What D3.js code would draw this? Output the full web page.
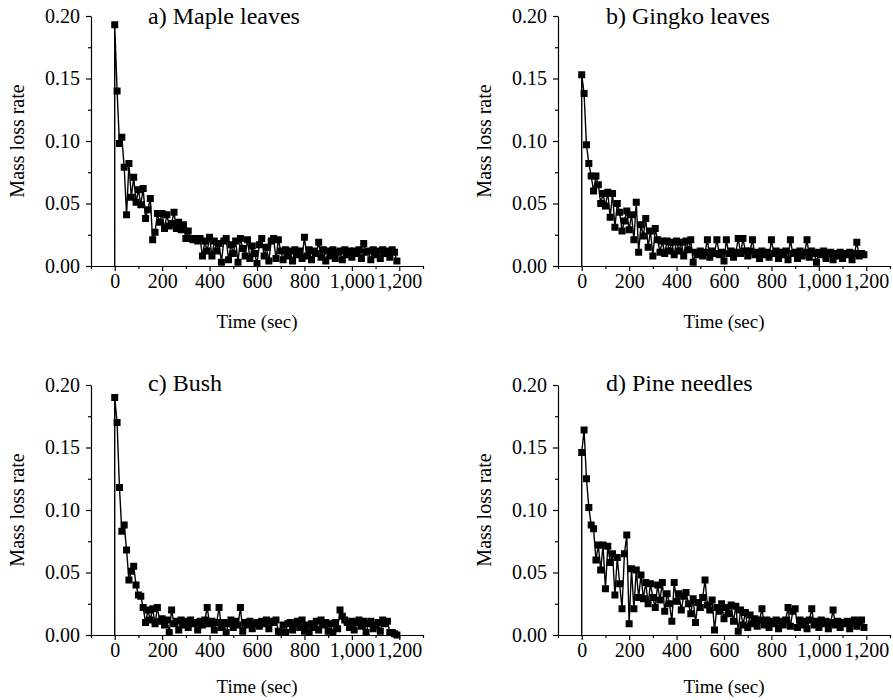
<!DOCTYPE html>
<html>
<head>
<meta charset="utf-8">
<script src="https://cdn.jsdelivr.net/npm/d3@7"></script>
<style>
  body { margin: 0; background: #fff; }
  svg { display: block; }
  .axis path, .axis line { stroke: #000; stroke-width: 1.2; }
</style>
</head>
<body>
<script>
// readings every 10 s, t = 0 .. 1190
const timeStep = 10;

const maple = [
  0.193, 0.140, 0.098, 0.103, 0.079, 0.041, 0.082, 0.055, 0.071, 0.051,
  0.061, 0.049, 0.062, 0.038, 0.045, 0.054, 0.021, 0.027, 0.042, 0.035,
  0.042, 0.030, 0.041, 0.032, 0.034, 0.043, 0.030, 0.035, 0.029, 0.033,
  0.022, 0.028, 0.022, 0.021, 0.022, 0.020, 0.022, 0.008, 0.020, 0.012,
  0.023, 0.008, 0.020, 0.012, 0.018, 0.003, 0.020, 0.022, 0.005, 0.017,
  0.010, 0.020, 0.003, 0.022, 0.014, 0.008, 0.021, 0.006, 0.016, 0.010,
  0.002, 0.017, 0.022, 0.008, 0.015, 0.004, 0.020, 0.022, 0.006, 0.021,
  0.012, 0.005, 0.013, 0.008, 0.012, 0.004, 0.013, 0.009, 0.012, 0.006,
  0.023, 0.008, 0.013, 0.005, 0.012, 0.010, 0.019, 0.007, 0.013, 0.004,
  0.012, 0.008, 0.013, 0.006, 0.011, 0.012, 0.005, 0.013, 0.009, 0.012,
  0.007, 0.012, 0.010, 0.013, 0.006, 0.018, 0.011, 0.012, 0.005, 0.013,
  0.009, 0.012, 0.006, 0.013, 0.010, 0.012, 0.007, 0.013, 0.011, 0.004
];

const gingko = [
  0.153, 0.138, 0.097, 0.082, 0.072, 0.060, 0.072, 0.065, 0.050, 0.058,
  0.048, 0.059, 0.039, 0.058, 0.031, 0.050, 0.043, 0.028, 0.036, 0.044,
  0.029, 0.041, 0.021, 0.051, 0.011, 0.033, 0.024, 0.038, 0.015, 0.028,
  0.008, 0.030, 0.021, 0.011, 0.020, 0.010, 0.020, 0.012, 0.019, 0.009,
  0.020, 0.012, 0.019, 0.008, 0.020, 0.013, 0.021, 0.003, 0.011, 0.009,
  0.012, 0.008, 0.011, 0.021, 0.007, 0.012, 0.010, 0.021, 0.009, 0.011,
  0.004, 0.021, 0.010, 0.012, 0.007, 0.011, 0.022, 0.010, 0.022, 0.012,
  0.008, 0.012, 0.021, 0.009, 0.011, 0.006, 0.012, 0.009, 0.011, 0.007,
  0.021, 0.010, 0.012, 0.006, 0.011, 0.009, 0.012, 0.005, 0.021, 0.010,
  0.011, 0.006, 0.012, 0.008, 0.011, 0.021, 0.007, 0.012, 0.010, 0.003,
  0.011, 0.009, 0.012, 0.006, 0.010, 0.011, 0.005, 0.010, 0.008, 0.011,
  0.006, 0.010, 0.009, 0.011, 0.005, 0.010, 0.019, 0.008, 0.010, 0.009
];

const bush = [
  0.190, 0.170, 0.118, 0.083, 0.088, 0.068, 0.044, 0.051, 0.055, 0.040,
  0.032, 0.031, 0.022, 0.010, 0.020, 0.012, 0.021, 0.009, 0.022, 0.011,
  0.013, 0.008, 0.012, 0.002, 0.020, 0.009, 0.011, 0.004, 0.012, 0.008,
  0.011, 0.006, 0.012, 0.009, 0.010, 0.004, 0.011, 0.008, 0.012, 0.022,
  0.009, 0.011, 0.004, 0.010, 0.022, 0.006, 0.010, 0.002, 0.009, 0.012,
  0.006, 0.011, 0.008, 0.022, 0.003, 0.010, 0.008, 0.011, 0.005, 0.009,
  0.010, 0.007, 0.011, 0.009, 0.012, 0.005, 0.011, 0.010, 0.012, 0.003,
  0.002, 0.008, 0.002, 0.009, 0.010, 0.004, 0.009, 0.011, 0.006, 0.012,
  0.003, 0.008, 0.002, 0.009, 0.006, 0.011, 0.004, 0.012, 0.008, 0.010,
  0.003, 0.009, 0.002, 0.010, 0.005, 0.020, 0.015, 0.012, 0.010, 0.006,
  0.011, 0.004, 0.010, 0.012, 0.007, 0.011, 0.002, 0.009, 0.011, 0.005,
  0.008, 0.010, 0.003, 0.012, 0.009, 0.011, 0.002, 0.002, 0.001, 0.000
];

const pine = [
  0.146, 0.164, 0.125, 0.102, 0.088, 0.085, 0.060, 0.072, 0.052, 0.072,
  0.037, 0.071, 0.058, 0.065, 0.032, 0.062, 0.041, 0.021, 0.065, 0.080,
  0.009, 0.053, 0.021, 0.052, 0.030, 0.048, 0.029, 0.042, 0.025, 0.041,
  0.030, 0.022, 0.040, 0.028, 0.042, 0.019, 0.033, 0.025, 0.011, 0.042,
  0.027, 0.033, 0.020, 0.031, 0.034, 0.025, 0.017, 0.029, 0.010, 0.026,
  0.022, 0.030, 0.044, 0.024, 0.020, 0.028, 0.004, 0.022, 0.019, 0.025,
  0.013, 0.022, 0.017, 0.024, 0.011, 0.023, 0.003, 0.020, 0.008, 0.018,
  0.006, 0.016, 0.009, 0.013, 0.007, 0.012, 0.021, 0.008, 0.012, 0.006,
  0.011, 0.009, 0.012, 0.005, 0.011, 0.008, 0.012, 0.022, 0.007, 0.019,
  0.021, 0.006, 0.012, 0.008, 0.011, 0.005, 0.012, 0.021, 0.008, 0.011,
  0.006, 0.012, 0.009, 0.011, 0.005, 0.010, 0.020, 0.008, 0.011, 0.006,
  0.010, 0.009, 0.011, 0.005, 0.010, 0.012, 0.007, 0.010, 0.012, 0.006
];

const titles = ["a) Maple leaves", "b) Gingko leaves", "c) Bush", "d) Pine needles"];
const xMajorTicks = [0, 200, 400, 600, 800, 1000, 1200];
const xMinorTicks = [-100, 100, 300, 500, 700, 900, 1100, 1300];
const yMajorTicks = [0, 0.05, 0.10, 0.15, 0.20];
const yMinorTicks = [0.025, 0.075, 0.125, 0.175];
const xLabel = "Time (sec)";
const yLabel = "Mass loss rate";

// --- layout ---
const width = 893, height = 700;
const plotW = 332, plotH = 250;
const serif = '"Liberation Serif", "Times New Roman", Times, serif';
const panels = [
    { title: titles[0], values: maple,  left: 91,  top: 16,  titleX: 57, titleY: 8, xLabelY: 62 },
    { title: titles[1], values: gingko, left: 558, top: 16,  titleX: 48, titleY: 8, xLabelY: 62 },
    { title: titles[2], values: bush,   left: 91,  top: 385, titleX: 57, titleY: 6, xLabelY: 58 },
    { title: titles[3], values: pine,   left: 558, top: 385, titleX: 48, titleY: 6, xLabelY: 58 }
];

const svg = d3.select("body").append("svg")
    .attr("width", width)
    .attr("height", height)
    .attr("font-family", serif);

svg.append("rect").attr("width", width).attr("height", height).attr("fill", "#fff");

const xScale = d3.scaleLinear().domain([-100, 1300]).range([0, plotW]);
const yScale = d3.scaleLinear().domain([0, 0.20]).range([plotH, 0]);

const fmtX = d3.format(",");
const fmtY = d3.format(".2f");

function styleAxis(sel) {
    sel.attr("font-family", serif).attr("font-size", 20);
    sel.selectAll("text").attr("fill", "#000");
}

panels.forEach(p => {
    const g = svg.append("g").attr("transform", `translate(${p.left}, ${p.top})`);

    // Axes
    g.append("g")
        .attr("class", "axis")
        .attr("transform", `translate(0, ${plotH})`)
        .call(d3.axisBottom(xScale).tickValues(xMajorTicks).tickFormat(fmtX)
            .tickSize(5).tickSizeOuter(0).tickPadding(3))
        .call(styleAxis);

    g.append("g")
        .attr("class", "axis")
        .attr("transform", `translate(0, ${plotH})`)
        .call(d3.axisBottom(xScale).tickValues(xMinorTicks).tickFormat("")
            .tickSize(3).tickSizeOuter(0))
        .select(".domain").remove();

    g.append("g")
        .attr("class", "axis")
        .call(d3.axisLeft(yScale).tickValues(yMajorTicks).tickFormat(fmtY)
            .tickSize(5).tickSizeOuter(0).tickPadding(6))
        .call(styleAxis);

    g.append("g")
        .attr("class", "axis")
        .call(d3.axisLeft(yScale).tickValues(yMinorTicks).tickFormat("")
            .tickSize(3).tickSizeOuter(0))
        .select(".domain").remove();

    // Data: record starts from zero at t = 0
    const data = [{ t: 0, v: 0 }].concat(p.values.map((v, i) => ({ t: i * timeStep, v: v })));

    const line = d3.line()
        .x(d => xScale(d.t))
        .y(d => yScale(d.v));

    g.append("path")
        .datum(data)
        .attr("fill", "none")
        .attr("stroke", "#000")
        .attr("stroke-width", 1.4)
        .attr("d", line);

    const size = 7;
    g.selectAll(".data-point")
        .data(data.slice(1))
        .enter()
        .append("rect")
        .attr("class", "data-point")
        .attr("x", d => xScale(d.t) - size / 2)
        .attr("y", d => yScale(d.v) - size / 2)
        .attr("width", size)
        .attr("height", size)
        .attr("fill", "#000");

    // Title
    g.append("text")
        .attr("x", p.titleX)
        .attr("y", p.titleY)
        .attr("font-size", 24)
        .text(p.title);

    // x-axis label
    g.append("text")
        .attr("x", plotW / 2)
        .attr("y", plotH + p.xLabelY)
        .attr("text-anchor", "middle")
        .attr("font-size", 19)
        .text(xLabel);

    // y-axis label
    g.append("text")
        .attr("transform", `translate(-67, ${plotH / 2}) rotate(-90)`)
        .attr("text-anchor", "middle")
        .attr("font-size", 20)
        .text(yLabel);
});
</script>
</body>
</html>
